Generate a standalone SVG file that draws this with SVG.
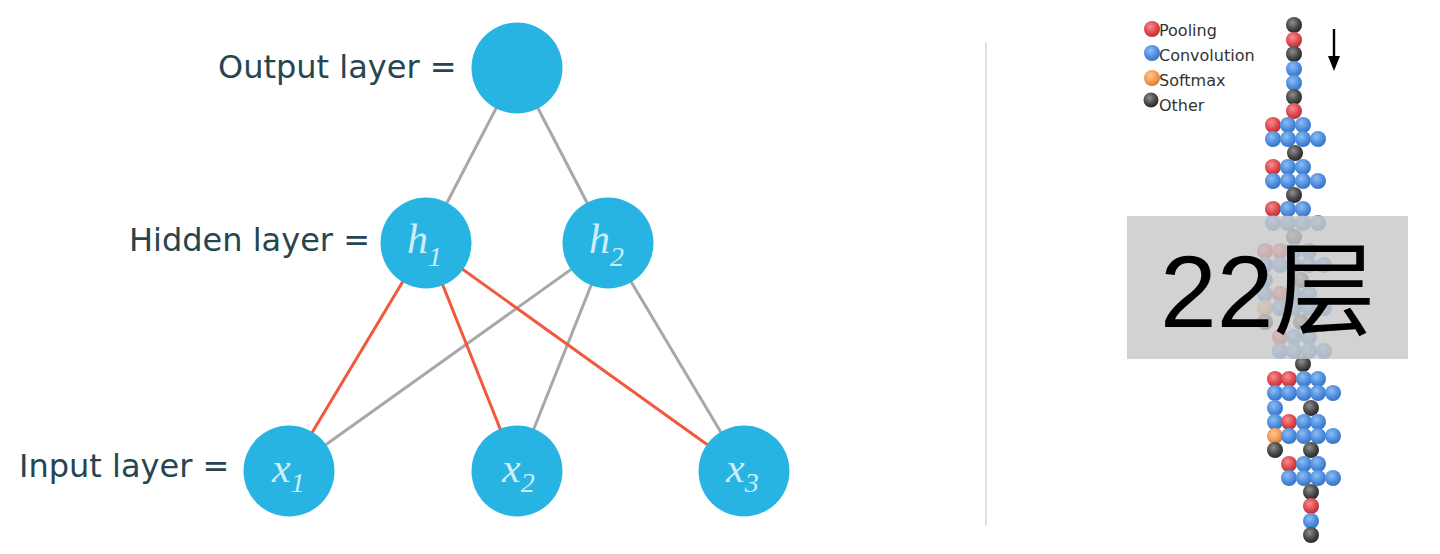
<svg xmlns="http://www.w3.org/2000/svg" width="1440" height="554" viewBox="0 0 1440 554">
<style>
.lbl{font-family:"DejaVu Sans",Verdana,sans-serif;font-size:32px;fill:#264550}
.node{fill:#28b4e2}
.var{font-family:"Liberation Serif","Times New Roman",serif;font-style:italic;fill:#cdeef9}
.gray{stroke:#a8a8a8;stroke-width:3}
.red{stroke:#f1583c;stroke-width:3}
.leg{font-family:"DejaVu Sans",Verdana,sans-serif;font-size:16px;fill:#333}
.R{fill:url(#gR)}.B{fill:url(#gB)}.O{fill:url(#gO)}.K{fill:url(#gK)}
</style>
<defs>
<radialGradient id="gB" cx="40%" cy="35%" r="65%"><stop offset="0" stop-color="#8fbcf2"/><stop offset="0.6" stop-color="#5090e0"/><stop offset="1" stop-color="#3a72c2"/></radialGradient>
<radialGradient id="gR" cx="40%" cy="35%" r="65%"><stop offset="0" stop-color="#f39090"/><stop offset="0.6" stop-color="#e04a50"/><stop offset="1" stop-color="#b53035"/></radialGradient>
<radialGradient id="gO" cx="40%" cy="35%" r="65%"><stop offset="0" stop-color="#ffc890"/><stop offset="0.6" stop-color="#f59c55"/><stop offset="1" stop-color="#d57a32"/></radialGradient>
<radialGradient id="gK" cx="40%" cy="35%" r="65%"><stop offset="0" stop-color="#909090"/><stop offset="0.6" stop-color="#4a4a4a"/><stop offset="1" stop-color="#282828"/></radialGradient>
</defs>
<rect width="1440" height="554" fill="#fff"/>

<g id="connectors">
<line class="gray" x1="517" y1="68" x2="426" y2="243"/>
<line class="gray" x1="517" y1="68" x2="608" y2="243"/>
<line class="gray" x1="608" y1="243" x2="289" y2="471"/>
<line class="gray" x1="608" y1="243" x2="517" y2="471"/>
<line class="gray" x1="608" y1="243" x2="744" y2="471"/>
<line class="red" x1="426" y1="243" x2="289" y2="471"/>
<line class="red" x1="426" y1="243" x2="517" y2="471"/>
<line class="red" x1="426" y1="243" x2="744" y2="471"/>
</g>

<g id="label-output"><text class="lbl" x="218" y="78">Output layer =</text></g>
<g id="label-hidden"><text class="lbl" x="129" y="251">Hidden layer =</text></g>
<g id="label-input"><text class="lbl" x="19" y="477">Input layer =</text></g>

<g id="node-out"><circle class="node" cx="517" cy="68" r="45.5"/></g>
<g id="node-h1"><circle class="node" cx="426" cy="243" r="45.5"/><text class="var" x="407" y="253" font-size="42">h<tspan font-size="28" dy="13">1</tspan></text></g>
<g id="node-h2"><circle class="node" cx="608" cy="243" r="45.5"/><text class="var" x="589" y="253" font-size="42">h<tspan font-size="28" dy="13">2</tspan></text></g>
<g id="node-x1"><circle class="node" cx="289" cy="471" r="45.5"/><text class="var" x="272" y="482" font-size="42">x<tspan font-size="28" dy="10">1</tspan></text></g>
<g id="node-x2"><circle class="node" cx="517" cy="471" r="45.5"/><text class="var" x="502" y="482" font-size="42">x<tspan font-size="28" dy="10">2</tspan></text></g>
<g id="node-x3"><circle class="node" cx="744" cy="471" r="45.5"/><text class="var" x="726" y="482" font-size="42">x<tspan font-size="28" dy="10">3</tspan></text></g>

<line id="separator" x1="986" y1="42" x2="986" y2="526" stroke="#cfcfcf" stroke-width="1.2"/>

<g id="legend">
<circle class="R" cx="1152" cy="29" r="8"/><text class="leg" x="1159" y="36">Pooling</text>
<circle class="B" cx="1152" cy="53" r="8"/><text class="leg" x="1159" y="61">Convolution</text>
<circle class="O" cx="1152" cy="78" r="8"/><text class="leg" x="1159" y="86">Softmax</text>
<circle class="K" cx="1151" cy="100" r="7.5"/><text class="leg" x="1159" y="111">Other</text>
</g>

<g id="arrow">
<line x1="1334" y1="29" x2="1334" y2="58" stroke="#000" stroke-width="2.4"/>
<polygon points="1328,56 1340,56 1334,71" fill="#000"/>
</g>

<g id="network-column">
<circle class="K" cx="1294" cy="25" r="8"/>
<circle class="R" cx="1294" cy="40" r="8"/>
<circle class="K" cx="1294" cy="54" r="8"/>
<circle class="B" cx="1294" cy="69" r="8"/>
<circle class="B" cx="1294" cy="83" r="8"/>
<circle class="K" cx="1294" cy="97" r="8"/>
<circle class="R" cx="1294" cy="111" r="8"/>

<circle class="R" cx="1273" cy="125" r="8"/><circle class="B" cx="1288" cy="125" r="8"/><circle class="B" cx="1303" cy="125" r="8"/>
<circle class="B" cx="1273" cy="139" r="8"/><circle class="B" cx="1288" cy="139" r="8"/><circle class="B" cx="1303" cy="139" r="8"/><circle class="B" cx="1318" cy="139" r="8"/>
<circle class="K" cx="1295" cy="153" r="8"/>
<circle class="R" cx="1273" cy="167" r="8"/><circle class="B" cx="1288" cy="167" r="8"/><circle class="B" cx="1303" cy="167" r="8"/>
<circle class="B" cx="1273" cy="181" r="8"/><circle class="B" cx="1288" cy="181" r="8"/><circle class="B" cx="1303" cy="181" r="8"/><circle class="B" cx="1318" cy="181" r="8"/>
<circle class="K" cx="1294" cy="195" r="8"/>
<circle class="R" cx="1273" cy="209" r="8"/><circle class="B" cx="1288" cy="209" r="8"/><circle class="B" cx="1303" cy="209" r="8"/>
<circle class="B" cx="1273" cy="223" r="8"/><circle class="B" cx="1288" cy="223" r="8"/><circle class="B" cx="1303" cy="223" r="8"/><circle class="B" cx="1318" cy="223" r="8"/>
<circle class="K" cx="1294" cy="237" r="8"/>

<circle class="R" cx="1265" cy="251" r="8"/><circle class="R" cx="1280" cy="251" r="8"/><circle class="B" cx="1294" cy="251" r="8"/><circle class="B" cx="1309" cy="251" r="8"/>
<circle class="B" cx="1265" cy="265" r="8"/><circle class="B" cx="1280" cy="265" r="8"/><circle class="B" cx="1294" cy="265" r="8"/><circle class="B" cx="1309" cy="265" r="8"/><circle class="B" cx="1324" cy="265" r="8"/>
<circle class="B" cx="1265" cy="280" r="8"/><circle class="K" cx="1301" cy="280" r="8"/>
<circle class="B" cx="1265" cy="294" r="8"/><circle class="R" cx="1280" cy="294" r="8"/><circle class="B" cx="1294" cy="294" r="8"/><circle class="B" cx="1309" cy="294" r="8"/>
<circle class="O" cx="1265" cy="308" r="8"/><circle class="B" cx="1280" cy="308" r="8"/><circle class="B" cx="1294" cy="308" r="8"/><circle class="B" cx="1309" cy="308" r="8"/><circle class="B" cx="1324" cy="308" r="8"/>
<circle class="K" cx="1265" cy="322" r="8"/><circle class="K" cx="1301" cy="322" r="8"/>
<circle class="R" cx="1280" cy="337" r="8"/><circle class="B" cx="1294" cy="337" r="8"/><circle class="B" cx="1309" cy="337" r="8"/>
<circle class="B" cx="1280" cy="351" r="8"/><circle class="B" cx="1294" cy="351" r="8"/><circle class="B" cx="1309" cy="351" r="8"/><circle class="B" cx="1324" cy="351" r="8"/>
<circle class="K" cx="1303" cy="364" r="8"/>

<circle class="R" cx="1275" cy="379" r="8"/><circle class="R" cx="1289" cy="379" r="8"/><circle class="B" cx="1304" cy="379" r="8"/><circle class="B" cx="1318" cy="379" r="8"/>
<circle class="B" cx="1275" cy="393" r="8"/><circle class="B" cx="1289" cy="393" r="8"/><circle class="B" cx="1304" cy="393" r="8"/><circle class="B" cx="1318" cy="393" r="8"/><circle class="B" cx="1333" cy="393" r="8"/>
<circle class="B" cx="1275" cy="408" r="8"/><circle class="K" cx="1311" cy="408" r="8"/>
<circle class="B" cx="1275" cy="422" r="8"/><circle class="R" cx="1289" cy="422" r="8"/><circle class="B" cx="1304" cy="422" r="8"/><circle class="B" cx="1318" cy="422" r="8"/>
<circle class="O" cx="1275" cy="436" r="8"/><circle class="B" cx="1289" cy="436" r="8"/><circle class="B" cx="1304" cy="436" r="8"/><circle class="B" cx="1318" cy="436" r="8"/><circle class="B" cx="1333" cy="436" r="8"/>
<circle class="K" cx="1275" cy="450" r="8"/><circle class="K" cx="1311" cy="450" r="8"/>
<circle class="R" cx="1289" cy="464" r="8"/><circle class="B" cx="1304" cy="464" r="8"/><circle class="B" cx="1318" cy="464" r="8"/>
<circle class="B" cx="1289" cy="478" r="8"/><circle class="B" cx="1304" cy="478" r="8"/><circle class="B" cx="1318" cy="478" r="8"/><circle class="B" cx="1333" cy="478" r="8"/>
<circle class="K" cx="1311" cy="492" r="8"/>
<circle class="R" cx="1311" cy="506" r="8"/>
<circle class="B" cx="1311" cy="521" r="8"/>
<circle class="K" cx="1311" cy="535" r="8"/>
</g>

<g id="overlay-22">
<rect x="1127" y="216" width="281" height="143" fill="#c8c8c8" fill-opacity="0.82"/>
<text x="1160" y="327" font-family="'Liberation Sans','Noto Sans CJK SC',sans-serif" font-size="102" fill="#000">22层</text>
</g>
</svg>
